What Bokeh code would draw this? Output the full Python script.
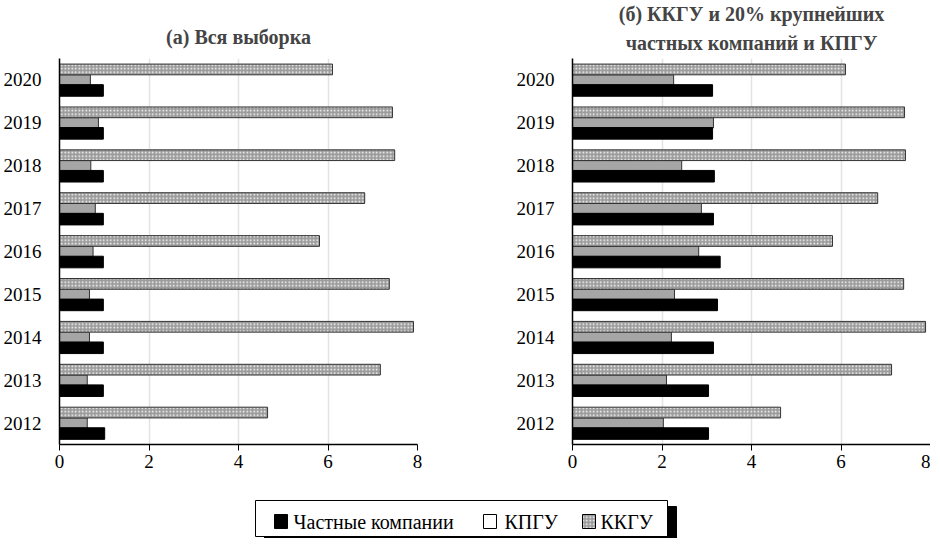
from bokeh.plotting import figure
from bokeh.layouts import column, row
from bokeh.models import ColumnDataSource, FactorRange, Range1d, FixedTicker, Title
from bokeh.transform import dodge
from bokeh.core.properties import value
from bokeh.embed import file_html
from bokeh.resources import INLINE

years = ["2012", "2013", "2014", "2015", "2016", "2017", "2018", "2019", "2020"]

# Panel (a): whole sample
a_private = [1.01, 0.98, 0.98, 0.98, 0.98, 0.98, 0.98, 0.98, 0.98]
a_kpgu = [0.62, 0.62, 0.67, 0.67, 0.75, 0.80, 0.70, 0.87, 0.69]
a_kkgu = [4.65, 7.17, 7.91, 7.37, 5.81, 6.82, 7.49, 7.44, 6.10]

# Panel (b): KKGU and top-20% private companies and KPGU
b_private = [3.04, 3.04, 3.15, 3.24, 3.30, 3.15, 3.17, 3.13, 3.13]
b_kpgu = [2.03, 2.10, 2.21, 2.28, 2.82, 2.88, 2.44, 3.15, 2.26]
b_kkgu = [4.65, 7.13, 7.89, 7.40, 5.81, 6.82, 7.44, 7.42, 6.10]

x_ticks = [0, 2, 4, 6, 8]
title_a = ["(а) Вся выборка"]
title_b = ["(б) ККГУ и 20% крупнейших", "частных компаний и КПГУ"]
legend_labels = ["Частные компании", "КПГУ", "ККГУ"]

SERIF = "Liberation Serif"
FRAME_H = 386
FRAME_W = 358
HATCH = dict(fill_color="#9c9c9c", hatch_pattern="dot", hatch_color="white",
             hatch_scale=3.5, hatch_weight=1.6)


def make_panel(title_lines, private, kpgu, kkgu, border_left, border_right, standoff):
    src = ColumnDataSource(dict(year=years, private=private, kpgu=kpgu, kkgu=kkgu))
    p = figure(y_range=FactorRange(factors=years, range_padding=0),
               x_range=Range1d(0, 8),
               frame_width=FRAME_W, frame_height=FRAME_H,
               min_border_left=border_left, min_border_right=border_right,
               min_border_top=58, min_border_bottom=36,
               output_backend="svg", toolbar_location=None)
    # add lines closest-to-frame first
    for i, line in enumerate(reversed(title_lines)):
        t = Title(text=line, align="center", text_font=SERIF, text_font_size="20px",
                  text_font_style="bold", standoff=standoff if i == 0 else 0)
        p.add_layout(t, "above")
    p.outline_line_color = None

    p.hbar(y=dodge("year", 0.0, range=p.y_range), left=0, right="kpgu", height=0.24,
           source=src, fill_color="#a6a6a6", line_color="#333333", line_width=1)
    p.hbar(y=dodge("year", 0.245, range=p.y_range), left=0, right="kkgu", height=0.25,
           source=src, line_color="#333333", line_width=1, **HATCH)
    p.hbar(y=dodge("year", -0.245, range=p.y_range), left=0, right="private", height=0.27,
           source=src, fill_color="black", line_color="black", line_width=1)

    p.xaxis.ticker = FixedTicker(ticks=x_ticks)
    p.xaxis.major_label_text_font = SERIF
    p.xaxis.major_label_text_font_size = "19px"
    p.xaxis.major_label_text_color = "black"
    p.xaxis.major_label_standoff = 4
    p.xaxis.axis_line_color = "black"
    p.xaxis.axis_line_width = 1.5
    p.xaxis.major_tick_line_color = "black"
    p.xaxis.major_tick_in = 0
    p.xaxis.major_tick_out = 6
    p.xaxis.minor_tick_line_color = None

    p.yaxis.major_label_text_font = SERIF
    p.yaxis.major_label_text_font_size = "19px"
    p.yaxis.major_label_text_color = "black"
    p.yaxis.axis_line_color = "black"
    p.yaxis.axis_line_width = 1.5
    p.yaxis.major_tick_line_color = None
    p.yaxis.minor_tick_line_color = None
    p.yaxis.major_label_standoff = 12

    p.ygrid.grid_line_color = None
    p.xgrid.grid_line_color = "#e3e3e3"
    p.xgrid.grid_line_width = 1.5
    return p


p1 = make_panel(title_a, a_private, a_kpgu, a_kkgu, 52, 52, 22)
p2 = make_panel(title_b, b_private, b_kpgu, b_kkgu, 103, 0, 10)

# Legend strip (drawn in pixel-like data coordinates, y downward)
LW, LH = 920, 58
leg = figure(frame_width=LW, frame_height=LH, x_range=Range1d(0, LW), y_range=Range1d(LH, 0),
             min_border=0, output_backend="svg", toolbar_location=None)
leg.axis.visible = False
leg.grid.visible = False
leg.outline_line_color = None

# shadow and box
leg.quad(left=[264], right=[676], top=[26], bottom=[64], fill_color="black", line_color="black")
leg.quad(left=[255], right=[667], top=[20], bottom=[56], fill_color="white", line_color="black",
         line_width=1)

# markers
leg.quad(left=[274], right=[287], top=[34], bottom=[48], fill_color="black", line_color="black")
leg.quad(left=[483], right=[496], top=[34], bottom=[48], fill_color="white", line_color="black")
leg.quad(left=[582], right=[595], top=[34], bottom=[48], line_color="black", **HATCH)

leg.text(x=[293, 504, 600], y=[41, 41, 41], text=legend_labels,
         text_font=value(SERIF), text_font_size="20px", text_baseline="middle",
         text_align="left", text_color="black")

layout = column(row(p1, p2), leg)
open("out.html", "w").write(file_html(layout, INLINE))
